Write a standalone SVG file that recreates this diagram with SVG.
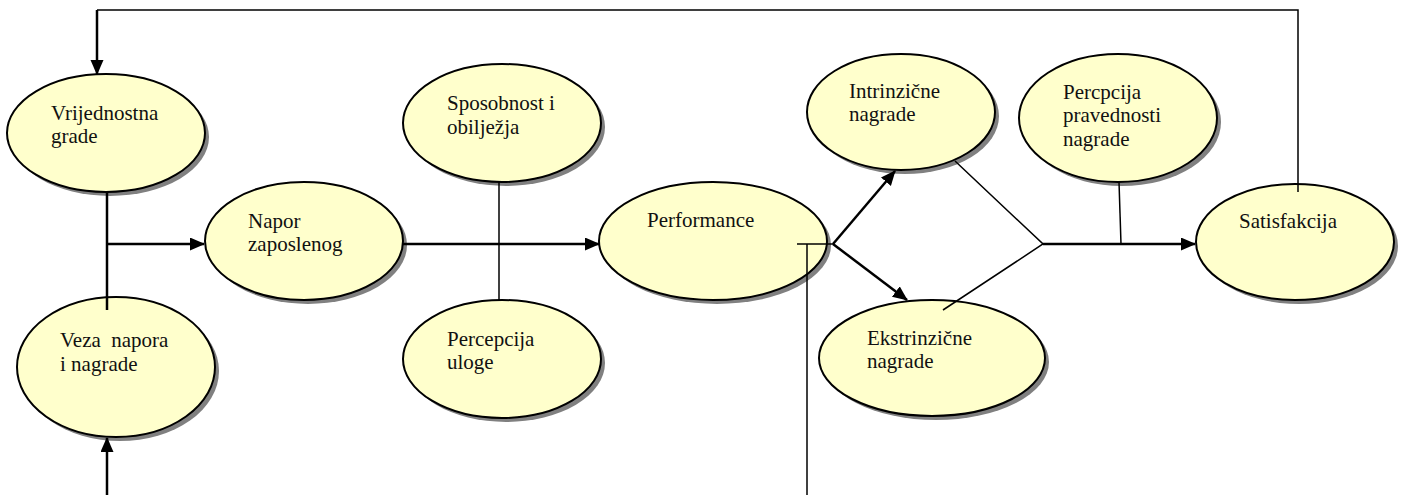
<svg xmlns="http://www.w3.org/2000/svg" width="1406" height="495" viewBox="0 0 1406 495">
  <style>
    .shadow { fill: #808080; stroke: none; }
    .node { fill: #FFFFCC; stroke: #000; stroke-width: 2; }
    .label { font-family: "Liberation Serif", "Times New Roman", serif; font-size: 21px; fill: #111; white-space: pre; }
    .thin { fill: none; stroke: #000; stroke-width: 1.5; }
    .thick { fill: none; stroke: #000; stroke-width: 2.5; }
    .arrow { fill: none; stroke: #000; stroke-width: 2.5; marker-end: url(#ah); }
  </style>
  <defs>
    <marker id="ah" markerUnits="userSpaceOnUse" markerWidth="16" markerHeight="14" refX="14" refY="6.5" orient="auto">
      <path d="M0,0 L15,6.5 L0,13 z" fill="#000"/>
    </marker>
  </defs>
  <rect width="1406" height="495" fill="#fff"/>

  <g id="vrijednostna-grade">
    <ellipse class="shadow" cx="110" cy="137" rx="99" ry="59"/>
    <ellipse class="node" cx="106" cy="133" rx="99" ry="59"/>
    <text class="label" x="51" y="120">Vrijednostna</text>
    <text class="label" x="51" y="143">grade</text>
  </g>
  <g id="veza-napora">
    <ellipse class="shadow" cx="120" cy="371" rx="99" ry="70"/>
    <ellipse class="node" cx="116" cy="367" rx="99" ry="70"/>
    <text class="label" x="60" y="347">Veza  napora</text>
    <text class="label" x="60" y="371">i nagrade</text>
  </g>
  <g id="napor-zaposlenog">
    <ellipse class="shadow" cx="308" cy="245" rx="99" ry="59"/>
    <ellipse class="node" cx="304" cy="241" rx="99" ry="59"/>
    <text class="label" x="248" y="228">Napor</text>
    <text class="label" x="248" y="251">zaposlenog</text>
  </g>
  <g id="sposobnost">
    <ellipse class="shadow" cx="506" cy="127" rx="99" ry="59"/>
    <ellipse class="node" cx="502" cy="123" rx="99" ry="59"/>
    <text class="label" x="447" y="110">Sposobnost i</text>
    <text class="label" x="447" y="134">obilježja</text>
  </g>
  <g id="percepcija-uloge">
    <ellipse class="shadow" cx="506" cy="363" rx="99" ry="59"/>
    <ellipse class="node" cx="502" cy="359" rx="99" ry="59"/>
    <text class="label" x="447" y="346">Percepcija</text>
    <text class="label" x="447" y="369">uloge</text>
  </g>
  <g id="performance">
    <ellipse class="shadow" cx="717" cy="245" rx="114" ry="59"/>
    <ellipse class="node" cx="713" cy="241" rx="114" ry="59"/>
    <text class="label" x="647" y="227">Performance</text>
  </g>
  <g id="intrinzicne">
    <ellipse class="shadow" cx="905" cy="116" rx="94" ry="58"/>
    <ellipse class="node" cx="901" cy="112" rx="94" ry="58"/>
    <text class="label" x="849" y="98">Intrinzične</text>
    <text class="label" x="849" y="121">nagrade</text>
  </g>
  <g id="ekstrinzicne">
    <ellipse class="shadow" cx="936" cy="362" rx="113" ry="58"/>
    <ellipse class="node" cx="932" cy="358" rx="113" ry="58"/>
    <text class="label" x="867" y="345">Ekstrinzične</text>
    <text class="label" x="867" y="368">nagrade</text>
  </g>
  <g id="percpcija-pravednosti">
    <ellipse class="shadow" cx="1122" cy="122" rx="99" ry="64"/>
    <ellipse class="node" cx="1118" cy="118" rx="99" ry="64"/>
    <text class="label" x="1063" y="99">Percpcija</text>
    <text class="label" x="1063" y="122">pravednosti</text>
    <text class="label" x="1063" y="146">nagrade</text>
  </g>
  <g id="satisfakcija">
    <ellipse class="shadow" cx="1299" cy="246" rx="99" ry="58"/>
    <ellipse class="node" cx="1295" cy="242" rx="99" ry="58"/>
    <text class="label" x="1239" y="228">Satisfakcija</text>
  </g>

  <g id="connectors">
    <path class="thin" d="M97,10 H1298 V192"/>
    <path class="arrow" d="M97,10 V74"/>
    <path class="thick" d="M107,192 V310"/>
    <path class="arrow" d="M107,244 H204"/>
    <path class="arrow" d="M107,495 V438"/>
    <path class="arrow" d="M403,244 H599"/>
    <path class="thin" d="M499,182 V300"/>
    <path class="thin" d="M797,244 H833"/>
    <path class="thin" d="M807,244 V495"/>
    <path class="arrow" d="M833,244 L895,171"/>
    <path class="arrow" d="M833,244 L907,300"/>
    <path class="thin" d="M955,161 L1043,244 L943,310"/>
    <path class="arrow" d="M1043,244 H1195"/>
    <path class="thin" d="M1119,182 L1121,244"/>
  </g>
</svg>
